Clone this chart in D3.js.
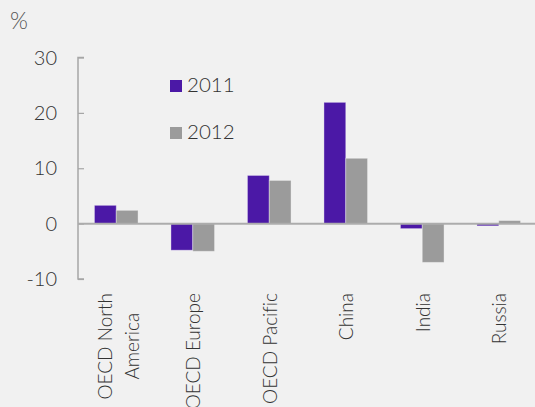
<!DOCTYPE html>
<html>
<head>
<meta charset="utf-8">
<script src="https://cdn.jsdelivr.net/npm/d3@7"></script>
<style>
html,body{margin:0;padding:0;background:#f1f1f1;}
svg{display:block;font-family:Lato,"Open Sans",sans-serif;font-weight:300;font-variant-ligatures:none;}
</style>
</head>
<body>
<svg id="chart" width="535" height="407"></svg>
<script>
const categories = ["OECD North|America", "OECD Europe", "OECD Pacific", "China", "India", "Russia"];
const seriesNames = ["2011", "2012"];
const values2011 = [3.3, -4.8, 8.7, 21.9, -0.9, -0.4];
const values2012 = [2.4, -5.0, 7.8, 11.8, -7.0, 0.55];
const yTicks = [-10, 0, 10, 20, 30];
const colors = ["#4b18a6", "#9b9b9b"];

(function () {
const svg = d3.select("#chart");
const W = 535, H = 407;
const pL = 78, pR = 537, pT = 57.5, pB = 279;

const x = d3.scaleBand().domain(categories).range([pL, pR]).paddingInner(0).paddingOuter(0);
const y = d3.scaleLinear().domain([-10, 30]).range([pB, pT]);
const inner = 43.6;
const x1 = d3.scaleBand().domain(seriesNames).range([0, inner]);

svg.append("rect").attr("width", W).attr("height", H).attr("fill", "#f1f1f1");

// y axis
const yAxis = d3.axisRight(y).tickValues(yTicks).tickSize(6).tickFormat("");
const ga = svg.append("g").attr("transform", `translate(${pL},0)`).call(yAxis);
ga.select(".domain").attr("stroke", "#a6a6a6").attr("stroke-width", 1.5).attr("d", `M6,${pT}H0V${pB}H6`);
ga.selectAll(".tick line").attr("stroke", "#a6a6a6").attr("stroke-width", 1.2);

svg.append("g").selectAll("text").data(yTicks).join("text")
  .attr("x", 57).attr("y", d => y(d)).attr("dy", "0.36em")
  .attr("text-anchor", "end").attr("font-size", 20).attr("fill", "#333")
  .text(d => d);

// bars
const data = [];
categories.forEach((c, i) => {
  data.push({c, s: "2011", v: values2011[i], k: 0});
  data.push({c, s: "2012", v: values2012[i], k: 1});
});
svg.append("g").selectAll("rect").data(data).join("rect")
  .attr("x", d => x(d.c) + (x.bandwidth() - inner) / 2 + x1(d.s))
  .attr("y", d => y(Math.max(0, d.v)))
  .attr("width", x1.bandwidth())
  .attr("height", d => Math.abs(y(d.v) - y(0)))
  .attr("fill", d => colors[d.k])
  .attr("stroke", "#ffffff").attr("stroke-opacity", 0.35).attr("stroke-width", 1);

// zero line
svg.append("line").attr("x1", pL).attr("x2", W).attr("y1", y(0)).attr("y2", y(0))
  .attr("stroke", "#acacac").attr("stroke-width", 2);

// category labels
const labelTop = 293;
categories.forEach(c => {
  const cx = x(c) + x.bandwidth() / 2;
  const lines = c.split("|");
  const g = svg.append("g");
  if (lines.length === 1) {
    g.append("text")
      .attr("transform", `translate(${cx + 7.3},${labelTop}) rotate(-90)`)
      .attr("text-anchor", "end").attr("font-size", 19).attr("fill", "#333")
      .text(lines[0]);
  } else {
    const offs = [-4, 22.3];
    const texts = lines.map((l, j) => g.append("text")
      .attr("text-anchor", "middle").attr("font-size", 19).attr("fill", "#333").text(l));
    const maxLen = d3.max(texts, t => t.node().getComputedTextLength());
    texts.forEach((t, j) => t.attr("transform", `translate(${cx + offs[j]},${labelTop + maxLen / 2}) rotate(-90)`));
  }
});

// legend
const legY = [80, 127];
seriesNames.forEach((s, i) => {
  svg.append("rect").attr("x", 170).attr("y", legY[i]).attr("width", 12).attr("height", 12).attr("fill", colors[i]);
  svg.append("text").attr("x", 187).attr("y", legY[i] + 12.3).attr("font-size", 20.5).attr("fill", "#333").text(s);
});

// unit label
svg.append("text").attr("x", 10).attr("y", 29).attr("font-size", 23).attr("fill", "#555").text("%");
})();
</script>
</body>
</html>
